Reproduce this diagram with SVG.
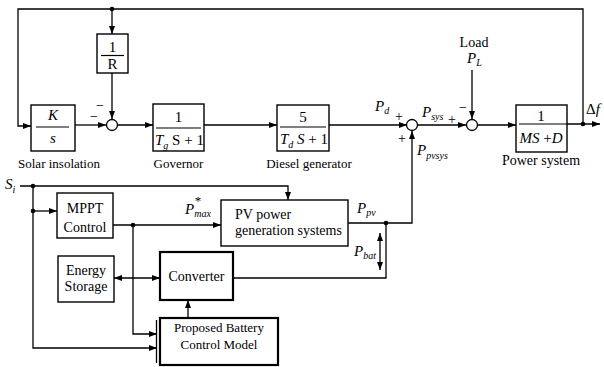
<svg xmlns="http://www.w3.org/2000/svg" width="604" height="367" viewBox="0 0 604 367" font-family="'Liberation Serif', 'Times New Roman', serif">
<defs>
<marker id="arr" markerWidth="8" markerHeight="6" refX="8" refY="3" orient="auto-start-reverse" markerUnits="userSpaceOnUse"><path d="M0,0 L8,3 L0,6 z" fill="#000"/></marker>
<style>
.ln{fill:none;stroke:#000;stroke-width:1.3}
.bx{fill:#fff;stroke:#000;stroke-width:1.4}
.tb{fill:#fff;stroke:#000;stroke-width:2.2}
.fr{stroke:#000;stroke-width:1.2}
text{font-family:'Liberation Serif','Times New Roman',serif;fill:#000}
.lb{font-size:13px;text-anchor:middle}
.nt{font-size:14px;text-anchor:middle}
.m{font-size:15px;font-style:italic}
.mn{font-size:15px;text-anchor:middle}
.s{font-size:10px;font-style:italic}
.sg{font-size:14px}
</style>
</defs>
<g id="connectors">
<path class="ln" d="M583,124 V9 H18 V126 H31" marker-end="url(#arr)"/>
<path class="ln" d="M112,9 V34" marker-end="url(#arr)"/>
<path class="ln" d="M112,73 V119" marker-end="url(#arr)"/>
<path class="ln" d="M75,125 H106" marker-end="url(#arr)"/>
<path class="ln" d="M117,125 H153" marker-end="url(#arr)"/>
<path class="ln" d="M204,125 H277" marker-end="url(#arr)"/>
<path class="ln" d="M329,125 H407" marker-end="url(#arr)"/>
<path class="ln" d="M418,125 H466" marker-end="url(#arr)"/>
<path class="ln" d="M472,70 V119" marker-end="url(#arr)"/>
<path class="ln" d="M478,125 H516" marker-end="url(#arr)"/>
<path class="ln" d="M567,124 H600" marker-end="url(#arr)"/>
<path class="ln" d="M20,186 H288 V200" marker-end="url(#arr)"/>
<path class="ln" d="M33,186 V348 H157" marker-end="url(#arr)"/>
<path class="ln" d="M33,211 H57" marker-end="url(#arr)"/>
<path class="ln" d="M113,225 H221" marker-end="url(#arr)"/>
<path class="ln" d="M133,225 V334 H157" marker-end="url(#arr)"/>
<path class="ln" d="M348,223 H412 V131" marker-end="url(#arr)"/>
<path class="ln" d="M386,223 V278 H233"/>
<path class="ln" d="M380,233 V270" marker-start="url(#arr)" marker-end="url(#arr)"/>
<path class="ln" d="M114,278 H160" marker-start="url(#arr)" marker-end="url(#arr)"/>
<path class="ln" d="M188,318 V300" marker-end="url(#arr)"/>
<circle cx="112" cy="9" r="2.3"/>
<circle cx="583" cy="124" r="2.3"/>
<circle cx="33" cy="186" r="2.3"/>
<circle cx="33" cy="211" r="2.3"/>
<circle cx="133" cy="225" r="2.3"/>
<circle cx="386" cy="223" r="2.3"/>
</g>
<g id="node-1R">
<rect class="bx" x="97" y="34" width="31" height="39"/>
<text class="mn" x="112.5" y="52">1</text>
<line class="fr" x1="101" y1="55.5" x2="124" y2="55.5"/>
<text class="mn" x="112.5" y="69">R</text>
</g>
<g id="node-Ks">
<rect class="bx" x="31" y="105" width="44" height="46"/>
<text class="m" x="53" y="120" text-anchor="middle">K</text>
<line class="fr" x1="36" y1="127" x2="69" y2="127"/>
<text class="m" x="53" y="143" text-anchor="middle">s</text>
<text class="lb" x="59" y="168">Solar insolation</text>
</g>
<g id="node-sum1">
<circle class="bx" cx="112" cy="125" r="5.5" style="stroke-width:1.3"/>
<text class="sg" x="96" y="110">−</text>
<text class="sg" x="90" y="121">−</text>
</g>
<g id="node-governor">
<rect class="bx" x="153" y="104" width="51" height="47"/>
<text class="mn" x="178.5" y="122">1</text>
<line class="fr" x1="156" y1="128" x2="201" y2="128"/>
<text class="m" x="155" y="145">T<tspan class="s" dy="4">g</tspan><tspan dy="-4" font-style="normal"> S + 1</tspan></text>
<text class="lb" x="178.5" y="168">Governor</text>
</g>
<g id="node-diesel">
<rect class="bx" x="277" y="105" width="52" height="46"/>
<text class="mn" x="303" y="122">5</text>
<line class="fr" x1="280" y1="127" x2="326" y2="127"/>
<text class="m" x="280" y="144">T<tspan class="s" dy="4">d</tspan><tspan dy="-4"> S</tspan><tspan font-style="normal"> + 1</tspan></text>
<text class="lb" x="309" y="168">Diesel generator</text>
</g>
<g id="node-sum2">
<circle class="bx" cx="412" cy="125" r="5.5" style="stroke-width:1.3"/>
<text class="m" x="375" y="111">P<tspan class="s" dy="3">d</tspan></text>
<text class="sg" x="395" y="121">+</text>
<text class="sg" x="398" y="143">+</text>
<text class="m" x="422" y="117">P<tspan class="s" dy="3">sys</tspan></text>
<text class="m" x="417" y="155">P<tspan class="s" dy="4">pvsys</tspan></text>
</g>
<g id="node-sum3">
<circle class="bx" cx="472" cy="125" r="5.5" style="stroke-width:1.3"/>
<text class="sg" x="448" y="124">+</text>
<text class="sg" x="459" y="112">−</text>
<text class="nt" x="474" y="47">Load</text>
<text class="m" x="467" y="63">P<tspan class="s" dy="3">L</tspan></text>
</g>
<g id="node-power">
<rect class="bx" x="516" y="105" width="51" height="47"/>
<text class="mn" x="541" y="121">1</text>
<line class="fr" x1="519" y1="124" x2="567" y2="124"/>
<text class="m" x="541" y="143" text-anchor="middle">MS <tspan font-style="normal">+</tspan>D</text>
<text class="nt" x="541" y="165">Power system</text>
<text class="m" x="586" y="114"><tspan font-style="normal">Δ</tspan>f</text>
</g>
<g id="node-Si">
<text class="m" x="5" y="189">S<tspan class="s" dy="4">i</tspan></text>
</g>
<g id="node-mppt">
<rect class="bx" x="57" y="193" width="56" height="45"/>
<text class="nt" x="85" y="213">MPPT</text>
<text class="nt" x="85" y="232">Control</text>
<text class="m" x="185" y="214">P<tspan class="s" dy="3">max</tspan><tspan dx="-16" dy="-12" font-style="normal" font-size="13">*</tspan></text>
</g>
<g id="node-pv">
<rect class="bx" x="221" y="200" width="127" height="46"/>
<text style="font-size:14px" x="235" y="219">PV power</text>
<text style="font-size:14px" x="235" y="235">generation systems</text>
<text class="m" x="357" y="213">P<tspan class="s" dy="3">pv</tspan></text>
<text class="m" x="354" y="256">P<tspan class="s" dy="3">bat</tspan></text>
</g>
<g id="node-storage">
<rect class="bx" x="58" y="256" width="56" height="46"/>
<text class="nt" x="86" y="275">Energy</text>
<text class="nt" x="86" y="291">Storage</text>
</g>
<g id="node-converter">
<rect class="tb" x="160" y="252" width="73" height="48"/>
<text class="nt" x="196.5" y="281">Converter</text>
</g>
<g id="node-battery">
<line class="ln" x1="156.5" y1="320" x2="156.5" y2="363"/>
<rect class="tb" x="160" y="318" width="118" height="47"/>
<text class="lb" x="219" y="332">Proposed Battery</text>
<text class="lb" x="219" y="349">Control Model</text>
</g>
</svg>
